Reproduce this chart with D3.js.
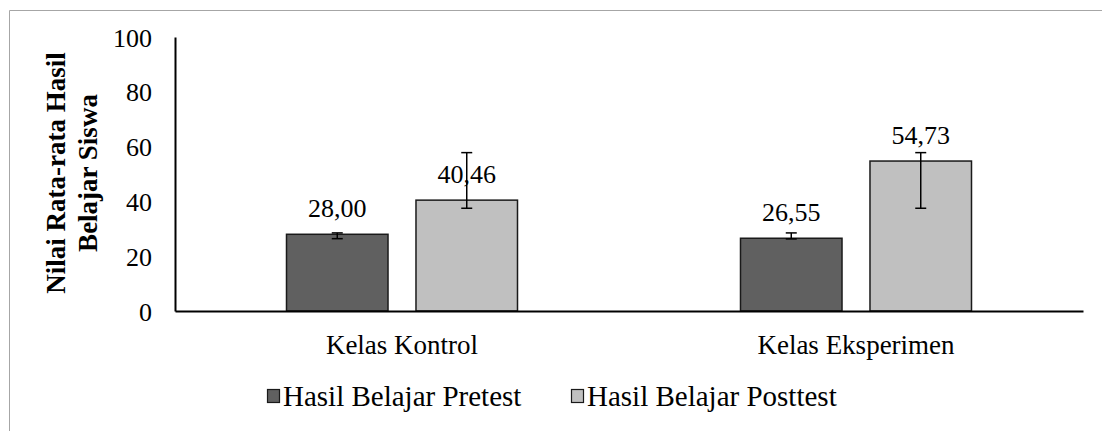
<!DOCTYPE html>
<html>
<head>
<meta charset="utf-8">
<script src="https://cdn.jsdelivr.net/npm/d3@7"></script>
<style>
  html, body { margin: 0; padding: 0; background: #fff; }
  svg { display: block; }
</style>
</head>
<body>
<script>
// ---- data ----
const categories = ["Kelas Kontrol", "Kelas Eksperimen"];
const seriesNames = ["Hasil Belajar Pretest", "Hasil Belajar Posttest"];
const pretest = [28.00, 26.55];
const posttest = [40.46, 54.73];
const valueLabels = [["28,00", "26,55"], ["40,46", "54,73"]];
const errLow = [[26.4, 26.3], [37.5, 37.5]];
const errHigh = [[28.5, 28.5], [57.8, 57.8]];
const yTicks = [0, 20, 40, 60, 80, 100];
const colors = ["#606060", "#c0c0c0"];

const FONT = "'Liberation Serif', 'Times New Roman', Times";
const W = 1102, H = 431;
const svg = d3.select("body").append("svg").attr("width", W).attr("height", H)
  .style("font-family", FONT);

// outer frame (cropped)
svg.append("path")
  .attr("d", `M9.5,${H + 2} L9.5,10.5 L${W + 2},10.5`)
  .attr("fill", "none").attr("stroke", "#a6a6a6").attr("stroke-width", 1);

const x0 = d3.scaleBand().domain(categories).range([175, 1083]);
const x1 = d3.scaleBand().domain(seriesNames).range([111.5, 342.5]).paddingInner(0.216);
const y = d3.scaleLinear().domain([0, 100]).range([311, 37]);

const seriesValues = [pretest, posttest];

// bars
seriesNames.forEach((s, si) => {
  const g = svg.append("g");
  g.selectAll("rect").data(categories).join("rect")
    .attr("x", c => x0(c) + x1(s))
    .attr("y", (c, i) => y(seriesValues[si][i]))
    .attr("width", x1.bandwidth())
    .attr("height", (c, i) => y(0) - y(seriesValues[si][i]))
    .attr("fill", colors[si])
    .attr("stroke", "#1a1a1a").attr("stroke-width", 1.5);
});

// error bars
seriesNames.forEach((s, si) => {
  categories.forEach((c, i) => {
    const cx = x0(c) + x1(s) + x1.bandwidth() / 2;
    const yl = y(errLow[si][i]), yh = y(errHigh[si][i]);
    const g = svg.append("g").attr("stroke", "#000").attr("stroke-width", 1.5);
    g.append("line").attr("x1", cx).attr("x2", cx).attr("y1", yl).attr("y2", yh);
    g.append("line").attr("x1", cx - 5.5).attr("x2", cx + 5.5).attr("y1", yl).attr("y2", yl);
    g.append("line").attr("x1", cx - 5.5).attr("x2", cx + 5.5).attr("y1", yh).attr("y2", yh);
  });
});

// value labels
seriesNames.forEach((s, si) => {
  categories.forEach((c, i) => {
    svg.append("text")
      .attr("x", x0(c) + x1(s) + x1.bandwidth() / 2)
      .attr("y", y(seriesValues[si][i]) - 17)
      .attr("text-anchor", "middle")
      .style("font-family", FONT).style("font-size", "26px")
      .attr("fill", "#000")
      .text(valueLabels[si][i]);
  });
});

// y axis
const yAxis = d3.axisLeft(y).tickValues(yTicks).tickSize(0).tickPadding(23).tickFormat(d3.format("d"));
const gy = svg.append("g").attr("transform", "translate(175,0)").call(yAxis);
gy.attr("font-family", null).attr("font-size", null);
gy.select(".domain").attr("stroke", "#000").attr("stroke-width", 2);
gy.selectAll("text").style("font-family", FONT).style("font-size", "26px").attr("fill", "#000").attr("dy", "0.35em");

// x axis
const xAxis = d3.axisBottom(x0).tickSize(0).tickPadding(24);
const gx = svg.append("g").attr("transform", "translate(0,311)").call(xAxis);
gx.attr("font-family", null).attr("font-size", null);
gx.select(".domain").attr("stroke", "#000").attr("stroke-width", 2);
gx.selectAll("text").style("font-family", FONT).style("font-size", "27px").attr("fill", "#000").attr("dy", "0.71em");

// y title
const yt = svg.append("text")
  .attr("transform", "translate(0,173) rotate(-90)")
  .attr("text-anchor", "middle")
  .style("font-family", FONT).style("font-size", "27px").style("font-weight", "bold")
  .attr("fill", "#000");
yt.append("tspan").attr("x", 0).attr("y", 65).text("Nilai Rata-rata Hasil");
yt.append("tspan").attr("x", 0).attr("y", 96.7).text("Belajar Siswa");

// legend
const legendX = [267, 571];
seriesNames.forEach((s, si) => {
  svg.append("rect")
    .attr("x", legendX[si] + 0.5).attr("y", 389.5)
    .attr("width", 12).attr("height", 13)
    .attr("fill", colors[si]).attr("stroke", "#1a1a1a").attr("stroke-width", 1.2);
  svg.append("text")
    .attr("x", legendX[si] + 16).attr("y", 405.5)
    .style("font-family", FONT).style("font-size", "29px")
    .attr("fill", "#000")
    .text(s);
});
</script>
</body>
</html>
